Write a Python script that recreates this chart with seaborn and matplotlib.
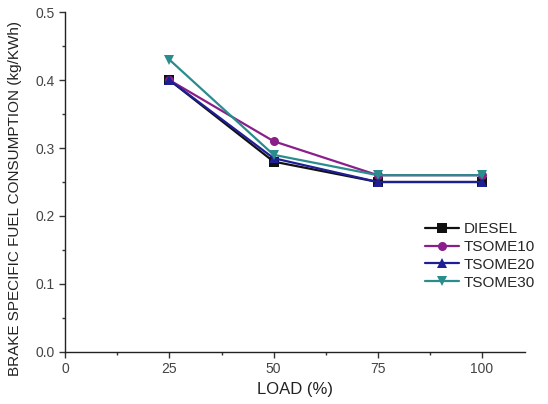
import matplotlib
matplotlib.use('Agg')
import matplotlib.pyplot as plt
from matplotlib.ticker import MultipleLocator
import pandas as pd
import seaborn as sns

load = [25, 50, 75, 100]
diesel = [0.40, 0.28, 0.25, 0.25]
tsome10 = [0.40, 0.31, 0.26, 0.26]
tsome20 = [0.40, 0.285, 0.25, 0.25]
tsome30 = [0.43, 0.29, 0.26, 0.26]

names = ['DIESEL', 'TSOME10', 'TSOME20', 'TSOME30']
colors = ['#111111', '#8a1f8a', '#1e1e96', '#2a8c8c']
markers = ['s', 'o', '^', 'v']

rows = []
for n, vals in zip(names, [diesel, tsome10, tsome20, tsome30]):
    for x, y in zip(load, vals):
        rows.append({'load': x, 'bsfc': y, 'fuel': n})
df = pd.DataFrame(rows)

sns.set_style('white')
plt.rcParams['font.family'] = ['Liberation Sans', 'DejaVu Sans']

fig = plt.figure(figsize=(5.48, 4.04), dpi=100)
ax = fig.add_axes([0.119, 0.129, 0.839, 0.841])

sns.lineplot(data=df, x='load', y='bsfc', hue='fuel', style='fuel',
             palette=colors, markers=markers, dashes=False, markersize=6.5,
             markeredgewidth=0, linewidth=1.6, ax=ax)

ax.set_xlim(0, 110.3)
ax.set_ylim(0, 0.5)
ax.xaxis.set_major_locator(MultipleLocator(25))
ax.xaxis.set_minor_locator(MultipleLocator(12.5))
ax.yaxis.set_major_locator(MultipleLocator(0.1))
ax.yaxis.set_minor_locator(MultipleLocator(0.05))
ax.yaxis.set_major_formatter(matplotlib.ticker.FormatStrFormatter('%.1f'))
ax.tick_params(which='major', direction='out', length=4, width=1, labelsize=10,
               colors='#333333', labelcolor='#444444', left=True, bottom=True)
ax.tick_params(which='minor', direction='out', length=2.5, width=1,
               colors='#333333', left=True, bottom=True)
for s in ['top', 'right']:
    ax.spines[s].set_visible(False)
for s in ['left', 'bottom']:
    ax.spines[s].set_color('#222222')
    ax.spines[s].set_linewidth(1.0)

ax.set_xlabel('LOAD (%)', fontsize=12, color='#222222')
ax.set_ylabel('BRAKE SPECIFIC FUEL CONSUMPTION (kg/KWh)', fontsize=11, color='#222222')
ax.yaxis.set_label_coords(-0.095, 0.45)

leg = ax.legend(loc='upper left', bbox_to_anchor=(0.77, 0.40), frameon=False,
                fontsize=11, handlelength=2.2, handletextpad=0.3, labelspacing=0.25,
                borderaxespad=0)

fig.savefig('out.png', dpi=100)
